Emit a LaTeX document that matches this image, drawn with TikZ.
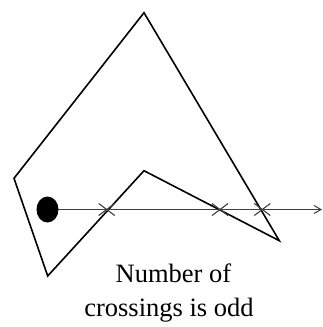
\documentclass[tikz,border=0pt]{standalone}
\usepackage{fontspec}
\setmainfont{Liberation Serif}
\usetikzlibrary{arrows.meta,shapes.geometric}
\begin{document}
\begin{tikzpicture}[x=1pt,y=-1pt,
  poly/.style={draw=black,line width=1.6pt,line join=miter},
  ray/.style={draw=black!75,line width=1.3pt,-{Straight Barb[length=7pt,width=8pt,line width=1pt]}},
  xmark/.style={draw=black!75,line width=1.1pt},
  lbl/.style={font=\fontsize{26.5}{33}\selectfont,align=center,inner sep=0pt}]
\useasboundingbox (0,0) rectangle (323,327);
\coordinate (top) at (144,12.7);
\coordinate (left) at (14,178.3);
\coordinate (bot) at (47.7,276);
\coordinate (notch) at (144,170.7);
\coordinate (rt) at (279.3,240.7);
\draw[poly] (top) -- (left) -- (bot) -- (notch) -- (rt) -- cycle;
\coordinate (start) at (47.5,209.5);
\coordinate (end) at (322,209.5);
\draw[ray] (start) -- (end);
\node[draw=none,fill=black,ellipse,minimum width=22pt,minimum height=26pt,inner sep=0pt] (dot) at (start) {};
\foreach \n/\x in {c1/106.7,c2/220,c3/262.3}{
  \coordinate (\n) at (\x,209.5);
  \draw[xmark] ([shift={(-8,-6)}]\n) -- ([shift={(8,6)}]\n);
  \draw[xmark] ([shift={(-8,6)}]\n) -- ([shift={(8,-6)}]\n);
}
\node[lbl,anchor=base] (l1) at (173.5,282.7) {Number of};
\node[lbl,anchor=base] (l2) at (169,316) {crossings is odd};
\end{tikzpicture}
\end{document}
